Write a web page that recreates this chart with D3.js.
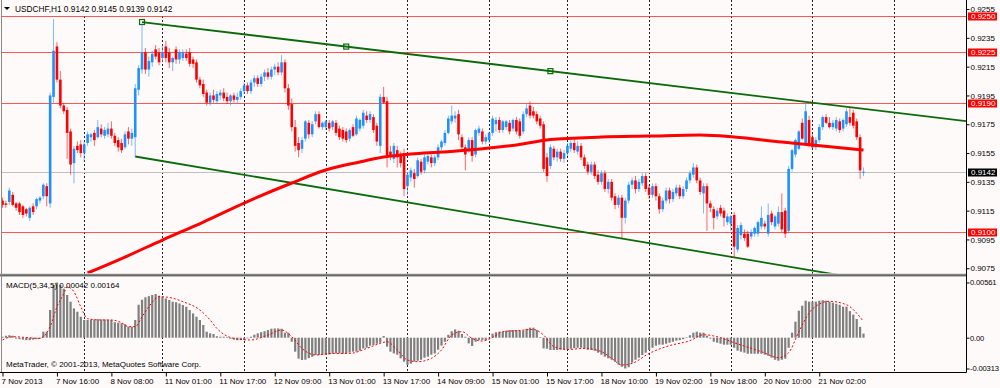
<!DOCTYPE html>
<html>
<head>
<meta charset="utf-8">
<script src="https://cdn.jsdelivr.net/npm/d3@7"></script>
<style>
html,body{margin:0;padding:0;background:#fffafa;}
svg{display:block;}
text{font-family:"Liberation Sans",Arial,sans-serif;font-size:8px;fill:#000;}
</style>
</head>
<body>
<svg id="chart" width="1000" height="388"></svg>
<script>
// ---------------- DATA ----------------
const symbolName = "USDCHF,H1";
const tradingDays = ["7 Nov","8 Nov","11 Nov","12 Nov","13 Nov","14 Nov","15 Nov","18 Nov","19 Nov","20 Nov","21 Nov"];
const barsPerDay  = [24,23,24,24,24,24,23,24,24,24,16];

const open = [
0.9122,0.9120,0.9121,0.9126,0.9120,0.9120,0.9118,0.9116,0.9110,0.9118,
0.9118,0.9122,0.9125,0.9132,0.9120,0.9194,0.9229,0.9206,0.9188,0.9185,
0.9170,0.9148,0.9160,0.9161,0.9155,0.9162,0.9166,0.9169,0.9166,0.9172,
0.9167,0.9168,0.9172,0.9167,0.9164,0.9162,0.9159,0.9170,0.9165,0.9166,
0.9199,0.9213,0.9225,0.9213,0.9218,0.9227,0.9225,0.9221,0.9229,0.9225,
0.9218,0.9227,0.9220,0.9221,0.9224,0.9225,0.9220,0.9218,0.9206,0.9203,
0.9197,0.9190,0.9195,0.9191,0.9195,0.9197,0.9194,0.9191,0.9195,0.9192,
0.9194,0.9198,0.9202,0.9198,0.9204,0.9207,0.9203,0.9208,0.9211,0.9208,
0.9213,0.9215,0.9211,0.9218,0.9200,0.9189,0.9173,0.9162,0.9158,0.9165,
0.9176,0.9168,0.9177,0.9182,0.9173,0.9173,0.9176,0.9173,0.9176,0.9172,
0.9171,0.9170,0.9165,0.9173,0.9168,0.9172,0.9174,0.9181,0.9178,0.9180,
0.9174,0.9160,0.9194,0.9191,0.9156,0.9151,0.9157,0.9153,0.9155,0.9132,
0.9138,0.9141,0.9139,0.9149,0.9143,0.9149,0.9152,0.9148,0.9152,0.9159,
0.9162,0.9169,0.9177,0.9179,0.9182,0.9166,0.9159,0.9157,0.9164,0.9154,
0.9169,0.9170,0.9163,0.9164,0.9169,0.9175,0.9178,0.9171,0.9173,0.9176,
0.9172,0.9178,0.9177,0.9170,0.9182,0.9188,0.9184,0.9182,0.9179,0.9175,
0.9152,0.9146,0.9158,0.9152,0.9156,0.9151,0.9155,0.9158,0.9162,0.9156,
0.9160,0.9152,0.9147,0.9142,0.9147,0.9140,0.9135,0.9141,0.9130,0.9135,
0.9125,0.9119,0.9124,0.9110,0.9122,0.9133,0.9136,0.9130,0.9134,0.9139,
0.9131,0.9126,0.9132,0.9125,0.9116,0.9122,0.9129,0.9123,0.9127,0.9131,
0.9125,0.9130,0.9136,0.9140,0.9145,0.9136,0.9127,0.9132,0.9120,0.9116,
0.9111,0.9117,0.9115,0.9107,0.9106,0.9112,0.9088,0.9098,0.9099,0.9099,
0.9097,0.9099,0.9099,0.9104,0.9106,0.9099,0.9113,0.9104,0.9106,0.9114,
0.9115,0.9101,0.9144,0.9154,0.9158,0.9176,0.9162,0.9178,0.9166,0.9159,
0.9164,0.9173,0.9180,0.9176,0.9173,0.9172,0.9177,0.9172,0.9175,0.9180,
0.9183,0.9177,0.9166,0.9142];

const high = [
0.9124,0.9122,0.9131,0.9128,0.9121,0.9121,0.9119,0.9117,0.9118,0.9120,
0.9124,0.9125,0.9134,0.9134,0.9197,0.9248,0.9232,0.9212,0.9190,0.9187,
0.9172,0.9160,0.9163,0.9164,0.9163,0.9170,0.9169,0.9171,0.9178,0.9175,
0.9173,0.9176,0.9177,0.9169,0.9166,0.9165,0.9170,0.9173,0.9172,0.9203,
0.9216,0.9245,0.9228,0.9222,0.9226,0.9230,0.9228,0.9230,0.9233,0.9228,
0.9222,0.9229,0.9227,0.9227,0.9227,0.9228,0.9222,0.9220,0.9208,0.9206,
0.9199,0.9197,0.9199,0.9198,0.9199,0.9200,0.9197,0.9196,0.9197,0.9197,
0.9200,0.9204,0.9204,0.9206,0.9209,0.9209,0.9210,0.9213,0.9214,0.9215,
0.9217,0.9218,0.9223,0.9220,0.9203,0.9193,0.9178,0.9166,0.9166,0.9178,
0.9178,0.9177,0.9184,0.9184,0.9177,0.9178,0.9178,0.9178,0.9178,0.9174,
0.9173,0.9172,0.9172,0.9175,0.9181,0.9179,0.9185,0.9184,0.9184,0.9182,
0.9176,0.9196,0.9201,0.9194,0.9160,0.9162,0.9160,0.9156,0.9158,0.9142,
0.9145,0.9144,0.9152,0.9151,0.9154,0.9154,0.9154,0.9154,0.9161,0.9164,
0.9171,0.9181,0.9188,0.9184,0.9185,0.9168,0.9161,0.9166,0.9166,0.9172,
0.9174,0.9172,0.9168,0.9170,0.9181,0.9180,0.9180,0.9178,0.9178,0.9178,
0.9179,0.9180,0.9179,0.9184,0.9189,0.9191,0.9187,0.9184,0.9181,0.9177,
0.9155,0.9161,0.9160,0.9158,0.9158,0.9157,0.9162,0.9164,0.9165,0.9163,
0.9162,0.9154,0.9149,0.9149,0.9149,0.9143,0.9143,0.9143,0.9137,0.9137,
0.9127,0.9126,0.9126,0.9124,0.9135,0.9138,0.9139,0.9137,0.9141,0.9141,
0.9133,0.9134,0.9134,0.9127,0.9124,0.9131,0.9131,0.9130,0.9133,0.9133,
0.9132,0.9138,0.9143,0.9148,0.9147,0.9138,0.9134,0.9134,0.9122,0.9118,
0.9117,0.9119,0.9117,0.9113,0.9112,0.9114,0.9105,0.9107,0.9102,0.9101,
0.9102,0.9104,0.9108,0.9118,0.9108,0.9120,0.9115,0.9112,0.9118,0.9127,
0.9117,0.9146,0.9158,0.9165,0.9171,0.9179,0.9191,0.9181,0.9168,0.9166,
0.9175,0.9181,0.9182,0.9180,0.9178,0.9180,0.9179,0.9179,0.9186,0.9187,
0.9185,0.9179,0.9168,0.9145];

const low = [
0.9117,0.9117,0.9119,0.9118,0.9115,0.9112,0.9110,0.9111,0.9108,0.9112,
0.9116,0.9120,0.9123,0.9118,0.9117,0.9190,0.9204,0.9186,0.9182,0.9151,
0.9140,0.9134,0.9155,0.9152,0.9149,0.9160,0.9163,0.9160,0.9165,0.9166,
0.9165,0.9166,0.9165,0.9160,0.9156,0.9155,0.9158,0.9161,0.9160,0.9152,
0.9195,0.9210,0.9210,0.9208,0.9215,0.9220,0.9216,0.9218,0.9218,0.9214,
0.9212,0.9217,0.9217,0.9219,0.9219,0.9215,0.9214,0.9204,0.9200,0.9194,
0.9188,0.9188,0.9190,0.9189,0.9192,0.9191,0.9189,0.9188,0.9190,0.9189,
0.9192,0.9196,0.9196,0.9196,0.9201,0.9201,0.9201,0.9205,0.9206,0.9206,
0.9209,0.9209,0.9209,0.9197,0.9185,0.9170,0.9156,0.9152,0.9155,0.9163,
0.9165,0.9166,0.9175,0.9172,0.9171,0.9171,0.9170,0.9171,0.9167,0.9164,
0.9163,0.9162,0.9163,0.9166,0.9167,0.9170,0.9172,0.9176,0.9176,0.9169,
0.9160,0.9155,0.9189,0.9145,0.9150,0.9148,0.9145,0.9145,0.9125,0.9126,
0.9135,0.9131,0.9138,0.9140,0.9141,0.9147,0.9145,0.9146,0.9150,0.9157,
0.9160,0.9168,0.9175,0.9176,0.9164,0.9157,0.9143,0.9155,0.9149,0.9152,
0.9167,0.9161,0.9161,0.9162,0.9167,0.9170,0.9169,0.9169,0.9171,0.9168,
0.9170,0.9168,0.9165,0.9168,0.9180,0.9179,0.9179,0.9175,0.9172,0.9142,
0.9135,0.9144,0.9150,0.9149,0.9149,0.9148,0.9153,0.9156,0.9155,0.9154,
0.9150,0.9144,0.9140,0.9140,0.9137,0.9133,0.9133,0.9128,0.9127,0.9122,
0.9116,0.9117,0.9096,0.9106,0.9120,0.9130,0.9127,0.9128,0.9132,0.9128,
0.9123,0.9124,0.9122,0.9113,0.9114,0.9120,0.9120,0.9121,0.9125,0.9123,
0.9123,0.9128,0.9134,0.9138,0.9134,0.9126,0.9113,0.9101,0.9114,0.9102,
0.9109,0.9111,0.9104,0.9105,0.9101,0.9082,0.9086,0.9095,0.9094,0.9089,
0.9095,0.9097,0.9097,0.9102,0.9102,0.9097,0.9105,0.9102,0.9104,0.9100,
0.9096,0.9099,0.9142,0.9152,0.9157,0.9164,0.9160,0.9159,0.9157,0.9157,
0.9162,0.9171,0.9175,0.9172,0.9171,0.9170,0.9169,0.9170,0.9173,0.9174,
0.9172,0.9164,0.9137,0.9139];

const close = [
0.9119,0.9119,0.9129,0.9119,0.9117,0.9114,0.9112,0.9113,0.9117,0.9114,
0.9123,0.9124,0.9133,0.9125,0.9195,0.9226,0.9206,0.9188,0.9184,0.9169,
0.9147,0.9158,0.9157,0.9155,0.9161,0.9168,0.9168,0.9164,0.9173,0.9168,
0.9171,0.9172,0.9167,0.9162,0.9159,0.9157,0.9168,0.9165,0.9169,0.9200,
0.9214,0.9225,0.9213,0.9219,0.9224,0.9222,0.9218,0.9225,0.9221,0.9218,
0.9221,0.9220,0.9225,0.9225,0.9221,0.9217,0.9217,0.9206,0.9202,0.9196,
0.9190,0.9195,0.9192,0.9196,0.9197,0.9193,0.9191,0.9195,0.9192,0.9194,
0.9198,0.9202,0.9198,0.9204,0.9207,0.9203,0.9208,0.9211,0.9208,0.9213,
0.9215,0.9211,0.9218,0.9200,0.9188,0.9173,0.9160,0.9157,0.9164,0.9177,
0.9168,0.9175,0.9182,0.9173,0.9176,0.9177,0.9172,0.9177,0.9169,0.9166,
0.9165,0.9164,0.9171,0.9167,0.9179,0.9178,0.9183,0.9178,0.9182,0.9171,
0.9163,0.9194,0.9190,0.9153,0.9153,0.9160,0.9152,0.9148,0.9130,0.9140,
0.9143,0.9137,0.9150,0.9142,0.9152,0.9153,0.9148,0.9152,0.9159,0.9163,
0.9169,0.9179,0.9181,0.9181,0.9168,0.9159,0.9154,0.9164,0.9153,0.9171,
0.9172,0.9163,0.9166,0.9169,0.9179,0.9178,0.9171,0.9177,0.9177,0.9170,
0.9178,0.9170,0.9167,0.9182,0.9186,0.9181,0.9181,0.9177,0.9174,0.9144,
0.9139,0.9159,0.9152,0.9156,0.9151,0.9155,0.9160,0.9162,0.9157,0.9160,
0.9152,0.9146,0.9142,0.9147,0.9139,0.9135,0.9141,0.9130,0.9135,0.9124,
0.9119,0.9124,0.9110,0.9122,0.9133,0.9136,0.9130,0.9135,0.9139,0.9130,
0.9126,0.9132,0.9125,0.9116,0.9122,0.9129,0.9123,0.9128,0.9131,0.9125,
0.9130,0.9136,0.9141,0.9145,0.9136,0.9128,0.9132,0.9120,0.9117,0.9110,
0.9115,0.9113,0.9110,0.9111,0.9111,0.9090,0.9103,0.9105,0.9096,0.9090,
0.9100,0.9103,0.9107,0.9110,0.9104,0.9112,0.9107,0.9111,0.9114,0.9102,
0.9099,0.9144,0.9157,0.9164,0.9170,0.9165,0.9184,0.9161,0.9159,0.9164,
0.9173,0.9180,0.9176,0.9173,0.9176,0.9178,0.9171,0.9178,0.9184,0.9176,
0.9174,0.9166,0.9143,0.9142];

// moving average (red thick line), read at selected bars
const maBars   = [25,36,47,59,71,85,95,105,112,120,129,137,143,151,161,176,190,205,215,229,238,253];
const maValues = [0.90717,0.90828,0.90946,0.91071,0.91203,0.91342,0.91432,0.91488,0.91522,0.91543,0.91557,0.91571,0.91585,0.91606,0.91644,0.91661,0.91668,0.91675,0.91661,0.91626,0.91606,0.91571];

// MACD(5,34,5) histogram, one value per bar
const macdHist = [
0.00010,0.00020,0.00025,0.00020,-0.00010,-0.00015,-0.00020,-0.00025,-0.00025,-0.00020,
-0.00015,-0.00010,0.00061,0.00061,0.00281,0.00535,0.00561,0.00535,0.00498,0.00434,
0.00366,0.00298,0.00264,0.00213,0.00180,0.00180,0.00183,0.00186,0.00188,0.00186,
0.00186,0.00183,0.00180,0.00157,0.00152,0.00147,0.00137,0.00112,0.00112,0.00180,
0.00335,0.00386,0.00411,0.00422,0.00434,0.00444,0.00427,0.00417,0.00399,0.00383,
0.00366,0.00361,0.00348,0.00332,0.00315,0.00281,0.00247,0.00213,0.00180,0.00129,
0.00061,0.00044,0.00038,0.00015,0.00010,0.00010,0.00005,-0.00010,-0.00020,-0.00025,
-0.00025,-0.00023,-0.00007,0.00010,0.00030,0.00044,0.00056,0.00066,0.00078,0.00091,
0.00094,0.00094,0.00091,0.00051,0.00051,-0.00041,-0.00142,-0.00213,-0.00227,-0.00224,
-0.00208,-0.00193,-0.00176,-0.00176,-0.00173,-0.00173,-0.00170,-0.00163,-0.00160,-0.00160,
-0.00163,-0.00157,-0.00152,-0.00142,-0.00142,-0.00132,-0.00109,-0.00102,-0.00081,-0.00074,
-0.00061,-0.00051,0.00017,-0.00091,-0.00142,-0.00160,-0.00173,-0.00210,-0.00244,-0.00277,
-0.00264,-0.00244,-0.00234,-0.00224,-0.00203,-0.00193,-0.00173,-0.00160,-0.00122,-0.00081,
-0.00041,0.00030,0.00066,0.00084,0.00071,0.00038,0.00010,-0.00058,-0.00084,-0.00041,
-0.00023,-0.00023,-0.00023,-0.00007,0.00041,0.00056,0.00061,0.00061,0.00071,0.00078,
0.00078,0.00078,0.00071,0.00071,0.00091,0.00102,0.00102,0.00078,0.00005,-0.00109,
-0.00112,-0.00125,-0.00125,-0.00125,-0.00122,-0.00122,-0.00119,-0.00112,-0.00107,-0.00102,
-0.00102,-0.00112,-0.00122,-0.00125,-0.00132,-0.00152,-0.00173,-0.00193,-0.00210,-0.00224,
-0.00244,-0.00274,-0.00295,-0.00313,-0.00300,-0.00254,-0.00224,-0.00203,-0.00176,-0.00152,
-0.00125,-0.00102,-0.00081,-0.00071,-0.00071,-0.00061,-0.00051,-0.00041,-0.00030,-0.00025,
-0.00015,0.00005,0.00025,0.00051,0.00061,0.00051,0.00051,0.00020,-0.00010,-0.00041,
-0.00051,-0.00061,-0.00071,-0.00071,-0.00071,-0.00102,-0.00132,-0.00142,-0.00152,-0.00163,
-0.00163,-0.00163,-0.00163,-0.00163,-0.00173,-0.00183,-0.00203,-0.00224,-0.00234,-0.00224,
-0.00213,-0.00102,0.00051,0.00163,0.00274,0.00325,0.00376,0.00366,0.00366,0.00366,
0.00376,0.00381,0.00376,0.00366,0.00356,0.00345,0.00335,0.00315,0.00315,0.00270,
0.00235,0.00190,0.00110,0.00042];

// MACD signal line (red dotted), read at selected bars
const signalBars = [0,3,11,12,14,16,18,19,21,23,25,29,32,35,37,39,41,43,46,49,53,58,61,63,68,73,78,82,85,88,92,97,102,107,111,113,116,119,122,126,129,132,135,138,141,144,147,151,156,159,162,166,171,176,179,182,185,190,196,202,206,211,215,223,228,231,234,237,239,243,248,253];
const signalValues = [-0.00023,0.00010,-0.00007,0.00010,0.00112,0.00315,0.00447,0.00518,0.00467,0.00315,
0.00193,0.00180,0.00180,0.00152,0.00112,0.00112,0.00213,0.00315,0.00417,0.00409,
0.00366,0.00281,0.00180,0.00094,-0.00007,-0.00023,0.00027,0.00078,0.00010,-0.00109,
-0.00176,-0.00160,-0.00160,-0.00109,-0.00058,-0.00041,-0.00125,-0.00227,-0.00244,-0.00210,
-0.00125,0.00027,0.00061,-0.00007,-0.00034,0.00003,0.00061,0.00071,0.00084,0.00027,
-0.00091,-0.00119,-0.00109,-0.00142,-0.00210,-0.00277,-0.00261,-0.00160,-0.00081,-0.00030,
0.00030,0.00000,-0.00051,-0.00142,-0.00203,-0.00152,0.00060,0.00250,0.00320,0.00370,
0.00335,0.00164];
const macdCurrent = ["0.00042","0.00164"];

// horizontal levels, bid, trend lines
const levelLines = [0.9250,0.9225,0.9190,0.9100];
const bidPrice = 0.9142;
const upperTrendBars = [41,161], upperTrendPrices = [0.92460,0.92119];
const lowerTrendBars = [39,205], lowerTrendPrices = [0.91526,0.90865];

// axis tick labels
const priceTicks = [0.9255,0.9235,0.9215,0.9195,0.9175,0.9155,0.9135,0.9115,0.9095,0.9075];
const macdTicks = [0.00561,0,-0.00313];
const macdTickLabels = ["0.00561","0.00","-0.00313"];
const xTickLabels = ["7 Nov 2013","7 Nov 16:00","8 Nov 08:00","11 Nov 01:00","11 Nov 17:00","12 Nov 09:00","13 Nov 01:00","13 Nov 17:00","14 Nov 09:00","15 Nov 01:00","15 Nov 17:00","18 Nov 10:00","19 Nov 02:00","19 Nov 18:00","20 Nov 10:00","21 Nov 02:00"];
const copyrightText = "MetaTrader, \u00A9 2001-2013, MetaQuotes Software Corp.";

// ---------------- LAYOUT ----------------
const W = 1000, H = 388;
const PR = 966;                       // right edge of plot area
const MAIN = {top:0, bottom:274};
const SUB  = {top:277, bottom:372};
const BULL = "#1e90ff", BEAR = "#ff0000";

const times = [];
tradingDays.forEach((d,k)=>{ for(let h=0;h<barsPerDay[k];h++) times.push(`${d} ${String(h).padStart(2,"0")}:00`); });
const N = times.length;
const idx = d3.range(N);

const x  = d3.scaleLinear().domain([0, N-1]).range([2.5, 863.5]);
const y  = d3.scaleLinear().domain([0.90710, 0.92613]).range([MAIN.bottom, MAIN.top]);
const ym = d3.scaleLinear().domain([-0.00313, 0.00561]).range([368.5, 282.5]);

const svg = d3.select("#chart");
svg.append("rect").attr("width",W).attr("height",H).attr("fill","#fffafa");

const defs = svg.append("defs");
defs.append("clipPath").attr("id","clipMain").append("rect")
  .attr("x",2).attr("y",MAIN.top).attr("width",PR-2).attr("height",MAIN.bottom-MAIN.top-0.5);
defs.append("clipPath").attr("id","clipSub").append("rect")
  .attr("x",2).attr("y",SUB.top).attr("width",PR-2).attr("height",SUB.bottom-SUB.top);

// ---- grid (day separators) ----
const dayStarts = Array.from(d3.cumsum([0, ...barsPerDay.slice(0,-1)]));
const gridBars = [...dayStarts.slice(1), dayStarts[dayStarts.length-1] + 24];
const px = v => Math.round(v) + 0.5;
[[MAIN.top, MAIN.bottom],[SUB.top, SUB.bottom]].forEach(([a,b])=>{
  svg.append("g").selectAll("line").data(gridBars).join("line")
    .attr("x1",d=>px(x(d))).attr("x2",d=>px(x(d)))
    .attr("y1",a).attr("y2",b)
    .attr("stroke","#222").attr("stroke-width",1).attr("stroke-dasharray","2,2");
});

// ---- main panel ----
const gMain = svg.append("g").attr("clip-path","url(#clipMain)");

gMain.append("g").selectAll("line").data(levelLines).join("line")
  .attr("x1",2).attr("x2",PR).attr("y1",d=>px(y(d))).attr("y2",d=>px(y(d)))
  .attr("stroke","#ff2a2a").attr("stroke-opacity",0.8).attr("stroke-width",1);
gMain.append("line").attr("x1",2).attr("x2",PR).attr("y1",px(y(bidPrice))).attr("y2",px(y(bidPrice)))
  .attr("stroke","#c0c0c0").attr("stroke-width",1);

const barRight = x.invert(PR);
function trend(bars, prices, color){
  const f = d3.scaleLinear().domain(bars).range(prices);
  gMain.append("line")
    .attr("x1",x(bars[0])).attr("y1",y(prices[0]))
    .attr("x2",x(barRight)).attr("y2",y(f(barRight)))
    .attr("stroke",color).attr("stroke-width",1.8);
  return f;
}
const fUp = trend(upperTrendBars, upperTrendPrices, "#0b6b0b");
trend(lowerTrendBars, lowerTrendPrices, "#0b6b0b");
const markerBars = [upperTrendBars[0], (upperTrendBars[0]+upperTrendBars[1])/2, upperTrendBars[1]];
gMain.append("g").selectAll("rect").data(markerBars).join("rect")
  .attr("x",d=>x(d)-2.5).attr("y",d=>y(fUp(d))-2.5).attr("width",5).attr("height",5)
  .attr("fill","none").attr("stroke","#0b6b0b").attr("stroke-width",1.2);

const isBull = i => close[i] >= open[i];
gMain.append("g").selectAll("line").data(idx).join("line")
  .attr("x1",i=>x(i)).attr("x2",i=>x(i))
  .attr("y1",i=>y(Math.max(high[i],open[i],close[i])))
  .attr("y2",i=>y(Math.min(low[i],open[i],close[i])))
  .attr("stroke",i=>isBull(i)?BULL:BEAR).attr("stroke-width",1).attr("stroke-opacity",0.6);
gMain.append("g").selectAll("rect").data(idx).join("rect")
  .attr("x",i=>x(i)-1.3).attr("width",2.6)
  .attr("y",i=>y(Math.max(open[i],close[i])))
  .attr("height",i=>Math.max(1, Math.abs(y(open[i])-y(close[i]))))
  .attr("fill",i=>isBull(i)?BULL:BEAR);

gMain.append("path").datum(maBars.map((b,k)=>[b,maValues[k]]))
  .attr("d", d3.line().x(d=>x(d[0])).y(d=>y(d[1])).curve(d3.curveMonotoneX))
  .attr("fill","none").attr("stroke","#ff0000").attr("stroke-width",3);

// title
const titleG = svg.append("g");
const titleText = `${symbolName}  ${[open[N-1],high[N-1],low[N-1],close[N-1]].map(d3.format(".4f")).join(" ")}`;
const tt = titleG.append("text").attr("x",15).attr("y",11.5).style("font-size","8.3px").text(titleText);
const tw = tt.node().getComputedTextLength();
titleG.insert("rect","text").attr("x",2).attr("y",0).attr("width",tw+16).attr("height",15).attr("fill","#fffafa");
titleG.append("path").attr("d","M4,7L10,7L7,10Z").attr("fill","#000");

// ---- MACD panel ----
const gSub = svg.append("g").attr("clip-path","url(#clipSub)");
gSub.append("g").selectAll("rect").data(idx).join("rect")
  .attr("x",i=>x(i)-1.1).attr("width",2.2)
  .attr("y",i=>Math.min(ym(0), ym(macdHist[i])))
  .attr("height",i=>Math.max(0.6, Math.abs(ym(macdHist[i])-ym(0))))
  .attr("fill","#7f7f7f");
gSub.append("path").datum(signalBars.map((b,k)=>[b,signalValues[k]]))
  .attr("d", d3.line().x(d=>x(d[0])).y(d=>ym(d[1])).curve(d3.curveMonotoneX))
  .attr("fill","none").attr("stroke","#ff0000").attr("stroke-width",1).attr("stroke-dasharray","2,2");

svg.append("text").attr("x",6).attr("y",287.5).text(`MACD(5,34,5) ${macdCurrent.join(" ")}`);
svg.append("text").attr("x",6).attr("y",367).text(copyrightText);

// ---- frames ----
svg.append("rect").attr("x",0).attr("y",273.5).attr("width",PR).attr("height",3.5).attr("fill","#c8c8c8");
svg.append("rect").attr("x",0).attr("y",274.3).attr("width",PR).attr("height",1.8).attr("fill","#666");
svg.append("line").attr("x1",1.5).attr("x2",1.5).attr("y1",0).attr("y2",SUB.bottom).attr("stroke","#8a8a8a");
svg.append("line").attr("x1",PR+0.5).attr("x2",PR+0.5).attr("y1",0).attr("y2",SUB.bottom+0.5).attr("stroke","#000");
svg.append("line").attr("x1",0).attr("x2",PR+0.5).attr("y1",SUB.bottom+0.5).attr("y2",SUB.bottom+0.5).attr("stroke","#000");

// ---- axes ----
const priceAxis = svg.append("g").attr("transform",`translate(${PR+0.5},0)`)
  .call(d3.axisRight(y).tickValues(priceTicks).tickFormat(d3.format(".4f")).tickSize(3).tickPadding(1));
const macdAxis = svg.append("g").attr("transform",`translate(${PR+0.5},0)`)
  .call(d3.axisRight(ym).tickValues(macdTicks).tickFormat((d,k)=>macdTickLabels[k]).tickSize(3).tickPadding(0.5));
const tickBars = xTickLabels.map((l,k)=> k===0 ? 0 : times.indexOf(l));
const timeAxis = svg.append("g").attr("transform",`translate(0,${SUB.bottom+0.5})`)
  .call(d3.axisBottom(x).tickValues(tickBars).tickFormat((d,k)=>xTickLabels[k]).tickSize(4).tickPadding(2));
[priceAxis, macdAxis, timeAxis].forEach(a=>{
  a.select(".domain").remove();
  a.selectAll("text").attr("font-family",null).attr("font-size",null).attr("fill","#000");
  a.selectAll("line").attr("stroke","#000");
});
macdAxis.selectAll("text").style("font-size","7.6px").style("letter-spacing","-0.15px");
timeAxis.selectAll("text").attr("text-anchor","start").attr("x",-1.5);

// level labels (boxes on the price axis)
const boxes = [...levelLines.map(v=>({v, fill:"#ff0000"})), {v:bidPrice, fill:"#000"}];
const lb = svg.append("g").selectAll("g").data(boxes).join("g")
  .attr("transform",d=>`translate(${PR+2},${Math.round(y(d.v))})`);
lb.append("rect").attr("x",0).attr("y",-3.5).attr("width",29).attr("height",8).attr("fill",d=>d.fill);
lb.append("text").attr("x",3).attr("y",0.5).attr("dy","0.33em").style("fill","#fff").text(d=>d3.format(".4f")(d.v));
</script>
</body>
</html>
